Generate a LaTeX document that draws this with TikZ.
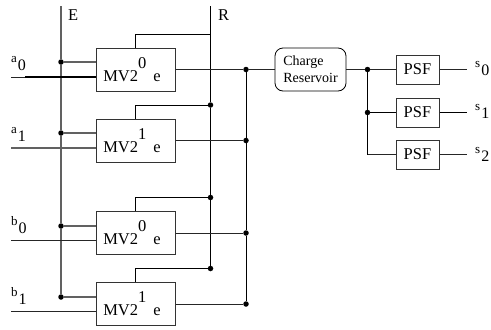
\documentclass[tikz,border=0pt]{standalone}
\usepackage{fontspec}
\setmainfont{Liberation Serif}
\tikzset{
  x=1bp,y=-1bp,
  wire/.style={line width=1bp,draw=black!85},
  soft/.style={line width=1.1bp,draw=black!62},
  mvbox/.style={draw=black!80,line width=1bp,fill=white,minimum width=78.5bp,minimum height=43bp,inner sep=0pt,
    font=\fontsize{16.5bp}{17bp}\selectfont},
  psfbox/.style={draw=black!80,line width=1bp,fill=white,minimum width=43bp,minimum height=29bp,inner sep=0pt,
    font=\fontsize{16.5bp}{17bp}\selectfont},
  resbox/.style={draw=black,line width=.8bp,fill=white,rounded corners=8bp,minimum width=71bp,minimum height=43bp,inner sep=0pt,
    align=left,font=\fontsize{14bp}{17bp}\selectfont},
  dot/.style={circle,fill=black,inner sep=0pt,minimum size=5.5bp},
  lab/.style={inner sep=0pt,anchor=base west,font=\fontsize{14bp}{16bp}\selectfont},
}
\newcommand{\mvtext}[1]{\hspace{-7.5bp}\raisebox{-7.5bp}{MV2\raisebox{13bp}{#1}\hspace{7bp}e}}
\newcommand{\siglabel}[2]{\fontsize{13bp}{15bp}\selectfont #1\hspace{1bp}\raisebox{-8bp}{\fontsize{16bp}{16bp}\selectfont #2}}
\begin{document}
\begin{tikzpicture}
\useasboundingbox (0,0) rectangle (491,329);
% rails
\coordinate (Etop) at (61,6);
\coordinate (Rtop) at (210.5,6);
% blocks
\node[mvbox] (m0) at (135.75,69.5) {\mvtext{0}};
\node[mvbox] (m1) at (135.75,140.5) {\mvtext{1}};
\node[mvbox] (m2) at (135.75,232.5) {\mvtext{0}};
\node[mvbox] (m3) at (135.75,303.5) {\mvtext{1}};
\node[resbox] (res) at (310.5,69.5) {Charge\\Reservoir};
\node[psfbox] (p0) at (417.5,69.5) {PSF};
\node[psfbox] (p1) at (417.5,112.5) {PSF};
\node[psfbox] (p2) at (417.5,154.5) {PSF};
% junctions
\node[dot] (e0) at (61,62) {};
\node[dot] (e1) at (61,133) {};
\node[dot] (e2) at (61,226) {};
\node[dot] (e3) at (61,297) {};
\node[dot] (r1) at (210.5,105) {};
\node[dot] (r2) at (210.5,197.5) {};
\node[dot] (r3) at (210.5,268.5) {};
\coordinate (r0) at (210.5,34);
\node[dot] (o0) at (246,69.5) {};
\node[dot] (o1) at (246,140.5) {};
\node[dot] (o2) at (246,233) {};
\node[dot] (o3) at (246,304) {};
\node[dot] (s0) at (367.5,69.5) {};
\node[dot] (s1) at (367.5,112.5) {};
\coordinate (s2) at (367.5,154.5);
% free ends
\coordinate (a0in) at (11,77);
\coordinate (a0th) at (25,77);
\coordinate (a1in) at (11,148);
\coordinate (b0in) at (11,240.5);
\coordinate (b1in) at (11,311);
\coordinate (q0) at (467,69.5);
\coordinate (q1) at (467,112.5);
\coordinate (q2) at (467,154.5);
% wires
\draw[soft] (Etop) -- (e0) -- (e1) -- (e2) -- (e3);
\draw[wire,draw=black] (Rtop) -- (r0) -- (r1) -- (r2) -- (r3);
\draw[wire,draw=black] (o0) -- (o1) -- (o2) -- (o3);
\draw[wire,draw=black] (s0) -- (s1) -- (s2);
\foreach \i in {0,1,2,3}{
  \draw[soft] (e\i) -- (e\i -| m\i.west);
  \draw[wire] (m\i.east |- o\i) -- (o\i);
  \draw[wire,draw=black] (r\i) -| (m\i.north);
}
\draw[wire] (a0in) -- (a0th);
\draw[line width=1.7bp] (a0th) -- (m0.west |- a0th);
\draw[soft] (a1in) -- (a1in -| m1.west);
\draw[wire] (b0in) -- (b0in -| m2.west);
\draw[wire] (b1in) -- (b1in -| m3.west);
\draw[wire] (o0) -- (res.west);
\draw[wire] (res.east) -- (s0);
\draw[wire] (s0) -- (p0.west);
\draw[wire,draw=black] (s1) -- (p1.west);
\draw[wire] (s2) -- (p2.west);
\draw[wire] (p0.east) -- (q0);
\draw[wire,draw=black] (p1.east) -- (q1);
\draw[wire] (p2.east) -- (q2);
% labels
\node[lab,font=\fontsize{16.5bp}{17bp}\selectfont] (E) at (68,20) {E};
\node[lab,font=\fontsize{16.5bp}{17bp}\selectfont] (R) at (218,20) {R};
\node[lab] (la0) at (11,62) {\siglabel{a}{0}};
\node[lab] (la1) at (11,133) {\siglabel{a}{1}};
\node[lab] (lb0) at (11,225) {\siglabel{b}{0}};
\node[lab] (lb1) at (11,296) {\siglabel{b}{1}};
\node[lab] (ls0) at (475,67) {\siglabel{s}{0}};
\node[lab] (ls1) at (475,110) {\siglabel{s}{1}};
\node[lab] (ls2) at (475,153) {\siglabel{s}{2}};
\end{tikzpicture}
\end{document}
